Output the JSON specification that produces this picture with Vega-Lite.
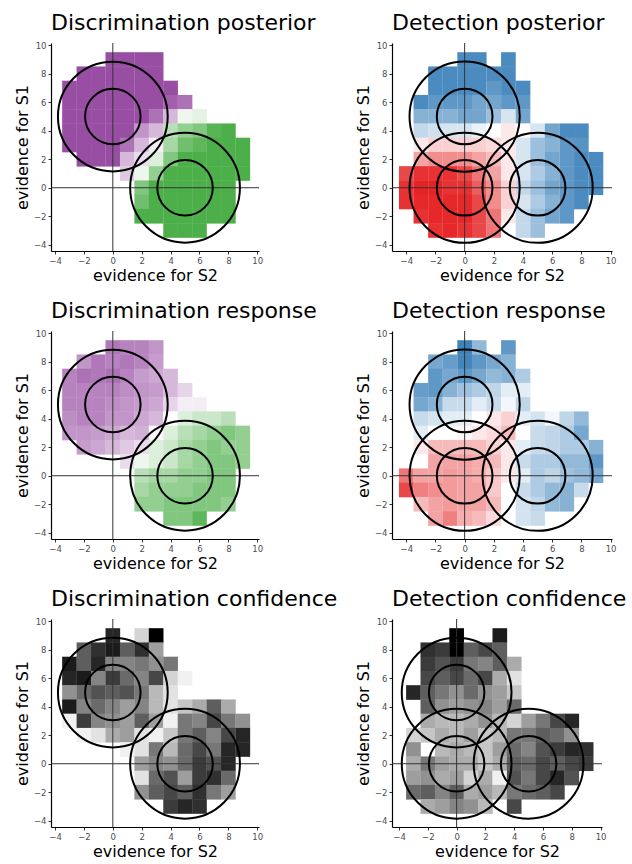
{
  "$schema": "https://vega.github.io/schema/vega-lite/v6.json",
  "padding": {"left": 14, "top": 12, "right": 0, "bottom": 0},
  "datasets": {
    "dp": [
      {"x":0,"y":9,"v":0},{"x":1,"y":9,"v":0},{"x":2,"y":9,"v":0},{"x":3,"y":9,"v":0},
      {"x":-2,"y":8,"v":0},{"x":-1,"y":8,"v":0},{"x":0,"y":8,"v":0},{"x":1,"y":8,"v":0},{"x":2,"y":8,"v":0},{"x":3,"y":8,"v":0},
      {"x":-3,"y":7,"v":0},{"x":-2,"y":7,"v":0},{"x":-1,"y":7,"v":0},{"x":0,"y":7,"v":0},{"x":1,"y":7,"v":0},{"x":2,"y":7,"v":0},{"x":3,"y":7,"v":0},{"x":4,"y":7,"v":0},
      {"x":-3,"y":6,"v":0},{"x":-2,"y":6,"v":0},{"x":-1,"y":6,"v":0},{"x":0,"y":6,"v":0},{"x":1,"y":6,"v":0},{"x":2,"y":6,"v":0},{"x":3,"y":6,"v":0},{"x":4,"y":6,"v":0.05},{"x":5,"y":6,"v":0.1},
      {"x":-3,"y":5,"v":0},{"x":-2,"y":5,"v":0},{"x":-1,"y":5,"v":0},{"x":0,"y":5,"v":0},{"x":1,"y":5,"v":0},{"x":2,"y":5,"v":0},{"x":3,"y":5,"v":0.1},{"x":4,"y":5,"v":0.3},{"x":5,"y":5,"v":0.55},{"x":6,"y":5,"v":0.58},
      {"x":-3,"y":4,"v":0},{"x":-2,"y":4,"v":0},{"x":-1,"y":4,"v":0},{"x":0,"y":4,"v":0},{"x":1,"y":4,"v":0},{"x":2,"y":4,"v":0.2},{"x":3,"y":4,"v":0.3},{"x":4,"y":4,"v":0.7},{"x":5,"y":4,"v":0.8},{"x":6,"y":4,"v":0.85},{"x":7,"y":4,"v":0.97},{"x":8,"y":4,"v":1},
      {"x":-3,"y":3,"v":0},{"x":-2,"y":3,"v":0},{"x":-1,"y":3,"v":0},{"x":0,"y":3,"v":0},{"x":1,"y":3,"v":0.1},{"x":2,"y":3,"v":0.3},{"x":3,"y":3,"v":0.45},{"x":4,"y":3,"v":0.75},{"x":5,"y":3,"v":0.9},{"x":6,"y":3,"v":0.95},{"x":7,"y":3,"v":1},{"x":8,"y":3,"v":1},{"x":9,"y":3,"v":1},
      {"x":-2,"y":2,"v":0},{"x":-1,"y":2,"v":0},{"x":0,"y":2,"v":0},{"x":1,"y":2,"v":0.3},{"x":2,"y":2,"v":0.4},{"x":3,"y":2,"v":0.6},{"x":4,"y":2,"v":0.85},{"x":5,"y":2,"v":1},{"x":6,"y":2,"v":1},{"x":7,"y":2,"v":1},{"x":8,"y":2,"v":1},{"x":9,"y":2,"v":1},
      {"x":1,"y":1,"v":0.35},{"x":2,"y":1,"v":0.55},{"x":3,"y":1,"v":0.8},{"x":4,"y":1,"v":1},{"x":5,"y":1,"v":1},{"x":6,"y":1,"v":1},{"x":7,"y":1,"v":1},{"x":8,"y":1,"v":1},{"x":9,"y":1,"v":1},
      {"x":2,"y":0,"v":0.85},{"x":3,"y":0,"v":1},{"x":4,"y":0,"v":1},{"x":5,"y":0,"v":1},{"x":6,"y":0,"v":1},{"x":7,"y":0,"v":1},{"x":8,"y":0,"v":1},
      {"x":2,"y":-1,"v":0.9},{"x":3,"y":-1,"v":1},{"x":4,"y":-1,"v":1},{"x":5,"y":-1,"v":1},{"x":6,"y":-1,"v":1},{"x":7,"y":-1,"v":1},{"x":8,"y":-1,"v":1},
      {"x":2,"y":-2,"v":1},{"x":3,"y":-2,"v":1},{"x":4,"y":-2,"v":1},{"x":5,"y":-2,"v":1},{"x":6,"y":-2,"v":1},{"x":7,"y":-2,"v":1},{"x":8,"y":-2,"v":1},
      {"x":4,"y":-3,"v":1},{"x":5,"y":-3,"v":1},{"x":6,"y":-3,"v":1}
    ],
    "dr": [
      {"x":0,"y":9,"v":0.12},{"x":1,"y":9,"v":0.15},{"x":2,"y":9,"v":0.15},{"x":3,"y":9,"v":0.2},
      {"x":-2,"y":8,"v":0.2},{"x":-1,"y":8,"v":0.12},{"x":0,"y":8,"v":0.15},{"x":1,"y":8,"v":0.12},{"x":2,"y":8,"v":0.15},{"x":3,"y":8,"v":0.22},
      {"x":-3,"y":7,"v":0.15},{"x":-2,"y":7,"v":0.1},{"x":-1,"y":7,"v":0.12},{"x":0,"y":7,"v":0.1},{"x":1,"y":7,"v":0.15},{"x":2,"y":7,"v":0.22},{"x":3,"y":7,"v":0.25},{"x":4,"y":7,"v":0.3},
      {"x":-3,"y":6,"v":0.15},{"x":-2,"y":6,"v":0.15},{"x":-1,"y":6,"v":0.15},{"x":0,"y":6,"v":0.15},{"x":1,"y":6,"v":0.18},{"x":2,"y":6,"v":0.2},{"x":3,"y":6,"v":0.22},{"x":4,"y":6,"v":0.3},{"x":5,"y":6,"v":0.38},
      {"x":-3,"y":5,"v":0.15},{"x":-2,"y":5,"v":0.15},{"x":-1,"y":5,"v":0.15},{"x":0,"y":5,"v":0.18},{"x":1,"y":5,"v":0.2},{"x":2,"y":5,"v":0.22},{"x":3,"y":5,"v":0.25},{"x":4,"y":5,"v":0.38},{"x":5,"y":5,"v":0.45},{"x":6,"y":5,"v":0.45},
      {"x":-3,"y":4,"v":0.18},{"x":-2,"y":4,"v":0.15},{"x":-1,"y":4,"v":0.15},{"x":0,"y":4,"v":0.2},{"x":1,"y":4,"v":0.2},{"x":2,"y":4,"v":0.25},{"x":3,"y":4,"v":0.3},{"x":4,"y":4,"v":0.5},{"x":5,"y":4,"v":0.6},{"x":6,"y":4,"v":0.65},{"x":7,"y":4,"v":0.65},{"x":8,"y":4,"v":0.7},
      {"x":-3,"y":3,"v":0.2},{"x":-2,"y":3,"v":0.2},{"x":-1,"y":3,"v":0.22},{"x":0,"y":3,"v":0.25},{"x":1,"y":3,"v":0.3},{"x":2,"y":3,"v":0.28},{"x":3,"y":3,"v":0.48},{"x":4,"y":3,"v":0.6},{"x":5,"y":3,"v":0.7},{"x":6,"y":3,"v":0.75},{"x":7,"y":3,"v":0.8},{"x":8,"y":3,"v":0.85},{"x":9,"y":3,"v":0.8},
      {"x":-2,"y":2,"v":0.22},{"x":-1,"y":2,"v":0.25},{"x":0,"y":2,"v":0.3},{"x":1,"y":2,"v":0.35},{"x":2,"y":2,"v":0.4},{"x":3,"y":2,"v":0.6},{"x":4,"y":2,"v":0.65},{"x":5,"y":2,"v":0.75},{"x":6,"y":2,"v":0.8},{"x":7,"y":2,"v":0.85},{"x":8,"y":2,"v":0.8},{"x":9,"y":2,"v":0.8},
      {"x":1,"y":1,"v":0.4},{"x":2,"y":1,"v":0.55},{"x":3,"y":1,"v":0.6},{"x":4,"y":1,"v":0.65},{"x":5,"y":1,"v":0.75},{"x":6,"y":1,"v":0.8},{"x":7,"y":1,"v":0.85},{"x":8,"y":1,"v":0.85},{"x":9,"y":1,"v":0.8},
      {"x":2,"y":0,"v":0.7},{"x":3,"y":0,"v":0.75},{"x":4,"y":0,"v":0.75},{"x":5,"y":0,"v":0.8},{"x":6,"y":0,"v":0.8},{"x":7,"y":0,"v":0.85},{"x":8,"y":0,"v":0.85},
      {"x":2,"y":-1,"v":0.75},{"x":3,"y":-1,"v":0.8},{"x":4,"y":-1,"v":0.8},{"x":5,"y":-1,"v":0.8},{"x":6,"y":-1,"v":0.85},{"x":7,"y":-1,"v":0.85},{"x":8,"y":-1,"v":0.85},
      {"x":2,"y":-2,"v":0.8},{"x":3,"y":-2,"v":0.8},{"x":4,"y":-2,"v":0.85},{"x":5,"y":-2,"v":0.85},{"x":6,"y":-2,"v":0.85},{"x":7,"y":-2,"v":0.85},{"x":8,"y":-2,"v":0.8},
      {"x":4,"y":-3,"v":0.85},{"x":5,"y":-3,"v":0.85},{"x":6,"y":-3,"v":0.95}
    ],
    "dc": [
      {"x":0,"y":9,"v":0.85},{"x":2,"y":9,"v":0.15},{"x":3,"y":9,"v":1},
      {"x":-2,"y":8,"v":0.6},{"x":-1,"y":8,"v":0.8},{"x":0,"y":8,"v":0.9},{"x":1,"y":8,"v":0.6},{"x":2,"y":8,"v":0.8},{"x":3,"y":8,"v":0.35},
      {"x":-3,"y":7,"v":0.9},{"x":-2,"y":7,"v":0.6},{"x":-1,"y":7,"v":0.85},{"x":0,"y":7,"v":0.45},{"x":1,"y":7,"v":0.45},{"x":2,"y":7,"v":0.5},{"x":3,"y":7,"v":0.4},{"x":4,"y":7,"v":0.5},
      {"x":-3,"y":6,"v":0.85},{"x":-2,"y":6,"v":0.9},{"x":-1,"y":6,"v":0.45},{"x":0,"y":6,"v":0.75},{"x":1,"y":6,"v":0.55},{"x":2,"y":6,"v":0.45},{"x":3,"y":6,"v":0.7},{"x":4,"y":6,"v":0.15},{"x":5,"y":6,"v":0.05},
      {"x":-3,"y":5,"v":0.4},{"x":-2,"y":5,"v":0.55},{"x":-1,"y":5,"v":0.65},{"x":0,"y":5,"v":0.6},{"x":1,"y":5,"v":0.65},{"x":2,"y":5,"v":0.5},{"x":3,"y":5,"v":0.25},{"x":4,"y":5,"v":0.1},
      {"x":-3,"y":4,"v":0.9},{"x":-2,"y":4,"v":0.45},{"x":-1,"y":4,"v":0.55},{"x":0,"y":4,"v":0.45},{"x":1,"y":4,"v":0.35},{"x":2,"y":4,"v":0.45},{"x":3,"y":4,"v":0.25},{"x":4,"y":4,"v":0.1},{"x":5,"y":4,"v":0.2},{"x":6,"y":4,"v":0.3},{"x":7,"y":4,"v":0.6},{"x":8,"y":4,"v":0.3},
      {"x":-3,"y":3,"v":0.05},{"x":-2,"y":3,"v":0.75},{"x":-1,"y":3,"v":0.45},{"x":0,"y":3,"v":0.4},{"x":1,"y":3,"v":0.35},{"x":2,"y":3,"v":0.6},{"x":3,"y":3,"v":0.35},{"x":4,"y":3,"v":0.05},{"x":5,"y":3,"v":0.5},{"x":6,"y":3,"v":0.45},{"x":7,"y":3,"v":0.7},{"x":8,"y":3,"v":0.5},{"x":9,"y":3,"v":0.4},
      {"x":-2,"y":2,"v":0.05},{"x":-1,"y":2,"v":0.1},{"x":0,"y":2,"v":0.3},{"x":1,"y":2,"v":0.35},{"x":2,"y":2,"v":0.1},{"x":3,"y":2,"v":0.05},{"x":4,"y":2,"v":0.2},{"x":5,"y":2,"v":0.5},{"x":6,"y":2,"v":0.6},{"x":7,"y":2,"v":0.45},{"x":8,"y":2,"v":0.7},{"x":9,"y":2,"v":0.85},
      {"x":1,"y":1,"v":0.05},{"x":2,"y":1,"v":0.1},{"x":3,"y":1,"v":0.5},{"x":4,"y":1,"v":0.25},{"x":5,"y":1,"v":0.55},{"x":6,"y":1,"v":0.7},{"x":7,"y":1,"v":0.5},{"x":8,"y":1,"v":0.85},{"x":9,"y":1,"v":0.85},
      {"x":2,"y":0,"v":0.35},{"x":3,"y":0,"v":0.45},{"x":4,"y":0,"v":0.4},{"x":5,"y":0,"v":0.55},{"x":6,"y":0,"v":0.75},{"x":7,"y":0,"v":0.65},{"x":8,"y":0,"v":0.85},
      {"x":2,"y":-1,"v":0.1},{"x":3,"y":-1,"v":0.55},{"x":4,"y":-1,"v":0.65},{"x":5,"y":-1,"v":0.35},{"x":6,"y":-1,"v":0.75},{"x":7,"y":-1,"v":0.8},{"x":8,"y":-1,"v":0.55},
      {"x":2,"y":-2,"v":0.4},{"x":3,"y":-2,"v":0.6},{"x":4,"y":-2,"v":0.7},{"x":5,"y":-2,"v":0.6},{"x":6,"y":-2,"v":0.8},{"x":7,"y":-2,"v":0.5},{"x":8,"y":-2,"v":0.35},
      {"x":4,"y":-3,"v":0.75},{"x":5,"y":-3,"v":0.85},{"x":6,"y":-3,"v":0.8}
    ],
    "tp": [
      {"x":0,"y":9,"v":0.95},{"x":1,"y":9,"v":0.95},{"x":3,"y":9,"v":0.95},
      {"x":-2,"y":8,"v":0.95},{"x":-1,"y":8,"v":0.95},{"x":0,"y":8,"v":0.95},{"x":1,"y":8,"v":0.95},{"x":2,"y":8,"v":0.95},{"x":3,"y":8,"v":0.95},
      {"x":-2,"y":7,"v":0.95},{"x":-1,"y":7,"v":0.95},{"x":0,"y":7,"v":0.95},{"x":1,"y":7,"v":0.95},{"x":2,"y":7,"v":0.9},{"x":3,"y":7,"v":0.95},{"x":4,"y":7,"v":0.95},
      {"x":-3,"y":6,"v":0.95},{"x":-2,"y":6,"v":0.9},{"x":-1,"y":6,"v":0.9},{"x":0,"y":6,"v":0.9},{"x":1,"y":6,"v":0.85},{"x":2,"y":6,"v":0.85},{"x":3,"y":6,"v":0.9},{"x":4,"y":6,"v":0.9},
      {"x":-3,"y":5,"v":0.8},{"x":-2,"y":5,"v":0.8},{"x":-1,"y":5,"v":0.8},{"x":0,"y":5,"v":0.85},{"x":1,"y":5,"v":0.85},{"x":2,"y":5,"v":0.75},{"x":3,"y":5,"v":0.6},{"x":4,"y":5,"v":0.85},
      {"x":-3,"y":4,"v":0.65},{"x":-2,"y":4,"v":0.62},{"x":-1,"y":4,"v":0.6},{"x":0,"y":4,"v":0.6},{"x":1,"y":4,"v":0.55},{"x":2,"y":4,"v":0.5},{"x":3,"y":4,"v":0.45},{"x":4,"y":4,"v":0.5},{"x":5,"y":4,"v":0.6},{"x":6,"y":4,"v":0.85},{"x":7,"y":4,"v":0.95},{"x":8,"y":4,"v":0.95},
      {"x":-3,"y":3,"v":0.45},{"x":-2,"y":3,"v":0.4},{"x":-1,"y":3,"v":0.4},{"x":0,"y":3,"v":0.4},{"x":1,"y":3,"v":0.4},{"x":2,"y":3,"v":0.42},{"x":3,"y":3,"v":0.45},{"x":4,"y":3,"v":0.6},{"x":5,"y":3,"v":0.75},{"x":6,"y":3,"v":0.8},{"x":7,"y":3,"v":0.9},{"x":8,"y":3,"v":0.92},
      {"x":-3,"y":2,"v":0.3},{"x":-2,"y":2,"v":0.25},{"x":-1,"y":2,"v":0.25},{"x":0,"y":2,"v":0.25},{"x":1,"y":2,"v":0.3},{"x":2,"y":2,"v":0.35},{"x":3,"y":2,"v":0.45},{"x":4,"y":2,"v":0.6},{"x":5,"y":2,"v":0.75},{"x":6,"y":2,"v":0.85},{"x":7,"y":2,"v":0.9},{"x":8,"y":2,"v":0.95},{"x":9,"y":2,"v":0.95},
      {"x":-4,"y":1,"v":0.1},{"x":-3,"y":1,"v":0.05},{"x":-2,"y":1,"v":0.05},{"x":-1,"y":1,"v":0.05},{"x":0,"y":1,"v":0.1},{"x":1,"y":1,"v":0.2},{"x":2,"y":1,"v":0.3},{"x":3,"y":1,"v":0.45},{"x":4,"y":1,"v":0.6},{"x":5,"y":1,"v":0.7},{"x":6,"y":1,"v":0.8},{"x":7,"y":1,"v":0.9},{"x":8,"y":1,"v":0.95},{"x":9,"y":1,"v":0.95},
      {"x":-4,"y":0,"v":0.05},{"x":-3,"y":0,"v":0.02},{"x":-2,"y":0,"v":0.02},{"x":-1,"y":0,"v":0.05},{"x":0,"y":0,"v":0.05},{"x":1,"y":0,"v":0.15},{"x":2,"y":0,"v":0.25},{"x":3,"y":0,"v":0.4},{"x":4,"y":0,"v":0.65},{"x":5,"y":0,"v":0.75},{"x":6,"y":0,"v":0.85},{"x":7,"y":0,"v":0.9},{"x":8,"y":0,"v":0.95},{"x":9,"y":0,"v":0.95},
      {"x":-4,"y":-1,"v":0.05},{"x":-3,"y":-1,"v":0.03},{"x":-2,"y":-1,"v":0.03},{"x":-1,"y":-1,"v":0.03},{"x":0,"y":-1,"v":0.03},{"x":1,"y":-1,"v":0.1},{"x":2,"y":-1,"v":0.25},{"x":3,"y":-1,"v":0.4},{"x":4,"y":-1,"v":0.6},{"x":5,"y":-1,"v":0.7},{"x":6,"y":-1,"v":0.8},{"x":7,"y":-1,"v":0.9},{"x":8,"y":-1,"v":0.95},
      {"x":-3,"y":-2,"v":0.05},{"x":-2,"y":-2,"v":0.03},{"x":-1,"y":-2,"v":0.03},{"x":0,"y":-2,"v":0.03},{"x":1,"y":-2,"v":0.1},{"x":2,"y":-2,"v":0.2},{"x":3,"y":-2,"v":0.45},{"x":4,"y":-2,"v":0.65},{"x":5,"y":-2,"v":0.75},{"x":6,"y":-2,"v":0.85},{"x":7,"y":-2,"v":0.9},
      {"x":-2,"y":-3,"v":0.05},{"x":-1,"y":-3,"v":0.03},{"x":0,"y":-3,"v":0.05},{"x":1,"y":-3,"v":0.1},{"x":2,"y":-3,"v":0.2},{"x":3,"y":-3,"v":0.5},{"x":4,"y":-3,"v":0.65},{"x":5,"y":-3,"v":0.75}
    ],
    "tr": [
      {"x":0,"y":9,"v":0.98},{"x":1,"y":9,"v":0.77},{"x":3,"y":9,"v":0.9},
      {"x":-2,"y":8,"v":0.84},{"x":-1,"y":8,"v":0.88},{"x":0,"y":8,"v":0.97},{"x":1,"y":8,"v":0.9},{"x":2,"y":8,"v":0.84},{"x":3,"y":8,"v":0.8},
      {"x":-2,"y":7,"v":0.9},{"x":-1,"y":7,"v":0.84},{"x":0,"y":7,"v":0.9},{"x":1,"y":7,"v":0.84},{"x":2,"y":7,"v":0.77},{"x":3,"y":7,"v":0.8},{"x":4,"y":7,"v":0.7},
      {"x":-3,"y":6,"v":0.88},{"x":-2,"y":6,"v":0.9},{"x":-1,"y":6,"v":0.8},{"x":0,"y":6,"v":0.74},{"x":1,"y":6,"v":0.7},{"x":2,"y":6,"v":0.66},{"x":3,"y":6,"v":0.57},{"x":4,"y":6,"v":0.57},
      {"x":-3,"y":5,"v":0.84},{"x":-2,"y":5,"v":0.8},{"x":-1,"y":5,"v":0.64},{"x":0,"y":5,"v":0.64},{"x":1,"y":5,"v":0.57},{"x":2,"y":5,"v":0.64},{"x":3,"y":5,"v":0.53},{"x":4,"y":5,"v":0.66},
      {"x":-3,"y":4,"v":0.64},{"x":-2,"y":4,"v":0.61},{"x":-1,"y":4,"v":0.57},{"x":0,"y":4,"v":0.57},{"x":1,"y":4,"v":0.5},{"x":2,"y":4,"v":0.45},{"x":3,"y":4,"v":0.4},{"x":4,"y":4,"v":0.57},{"x":5,"y":4,"v":0.61},{"x":6,"y":4,"v":0.53},{"x":7,"y":4,"v":0.66},{"x":8,"y":4,"v":0.77},
      {"x":-3,"y":3,"v":0.57},{"x":-2,"y":3,"v":0.5},{"x":-1,"y":3,"v":0.5},{"x":0,"y":3,"v":0.48},{"x":1,"y":3,"v":0.45},{"x":2,"y":3,"v":0.42},{"x":3,"y":3,"v":0.35},{"x":4,"y":3,"v":0.5},{"x":5,"y":3,"v":0.64},{"x":6,"y":3,"v":0.66},{"x":7,"y":3,"v":0.7},{"x":8,"y":3,"v":0.84},
      {"x":-3,"y":2,"v":0.45},{"x":-2,"y":2,"v":0.35},{"x":-1,"y":2,"v":0.35},{"x":0,"y":2,"v":0.35},{"x":1,"y":2,"v":0.35},{"x":2,"y":2,"v":0.4},{"x":3,"y":2,"v":0.45},{"x":4,"y":2,"v":0.57},{"x":5,"y":2,"v":0.64},{"x":6,"y":2,"v":0.66},{"x":7,"y":2,"v":0.7},{"x":8,"y":2,"v":0.7},{"x":9,"y":2,"v":0.8},
      {"x":-3,"y":1,"v":0.5},{"x":-2,"y":1,"v":0.3},{"x":-1,"y":1,"v":0.3},{"x":0,"y":1,"v":0.3},{"x":1,"y":1,"v":0.32},{"x":2,"y":1,"v":0.35},{"x":3,"y":1,"v":0.45},{"x":4,"y":1,"v":0.64},{"x":5,"y":1,"v":0.7},{"x":6,"y":1,"v":0.7},{"x":7,"y":1,"v":0.77},{"x":8,"y":1,"v":0.77},{"x":9,"y":1,"v":0.9},
      {"x":-4,"y":0,"v":0.2},{"x":-3,"y":0,"v":0.3},{"x":-2,"y":0,"v":0.3},{"x":-1,"y":0,"v":0.28},{"x":0,"y":0,"v":0.3},{"x":1,"y":0,"v":0.32},{"x":2,"y":0,"v":0.38},{"x":3,"y":0,"v":0.45},{"x":4,"y":0,"v":0.57},{"x":5,"y":0,"v":0.7},{"x":6,"y":0,"v":0.66},{"x":7,"y":0,"v":0.74},{"x":8,"y":0,"v":0.77},{"x":9,"y":0,"v":0.84},
      {"x":-4,"y":-1,"v":0.1},{"x":-3,"y":-1,"v":0.22},{"x":-2,"y":-1,"v":0.25},{"x":-1,"y":-1,"v":0.28},{"x":0,"y":-1,"v":0.3},{"x":1,"y":-1,"v":0.3},{"x":2,"y":-1,"v":0.38},{"x":3,"y":-1,"v":0.5},{"x":4,"y":-1,"v":0.64},{"x":5,"y":-1,"v":0.7},{"x":6,"y":-1,"v":0.77},{"x":7,"y":-1,"v":0.8},{"x":8,"y":-1,"v":0.64},
      {"x":-3,"y":-2,"v":0.35},{"x":-2,"y":-2,"v":0.3},{"x":-1,"y":-2,"v":0.28},{"x":0,"y":-2,"v":0.3},{"x":1,"y":-2,"v":0.3},{"x":2,"y":-2,"v":0.35},{"x":3,"y":-2,"v":0.5},{"x":4,"y":-2,"v":0.61},{"x":5,"y":-2,"v":0.66},{"x":6,"y":-2,"v":0.77},{"x":7,"y":-2,"v":0.8},
      {"x":-2,"y":-3,"v":0.3},{"x":-1,"y":-3,"v":0.22},{"x":0,"y":-3,"v":0.32},{"x":1,"y":-3,"v":0.35},{"x":2,"y":-3,"v":0.42},{"x":4,"y":-3,"v":0.61},{"x":5,"y":-3,"v":0.64}
    ],
    "tc": [
      {"x":0,"y":9,"v":1},{"x":3,"y":9,"v":0.9},
      {"x":-2,"y":8,"v":0.8},{"x":-1,"y":8,"v":0.75},{"x":0,"y":8,"v":1},{"x":1,"y":8,"v":0.6},{"x":2,"y":8,"v":0.7},{"x":3,"y":8,"v":0.6},
      {"x":-2,"y":7,"v":0.75},{"x":-1,"y":7,"v":0.65},{"x":0,"y":7,"v":0.75},{"x":1,"y":7,"v":0.5},{"x":2,"y":7,"v":0.45},{"x":3,"y":7,"v":0.6},{"x":4,"y":7,"v":0.3},
      {"x":-2,"y":6,"v":0.7},{"x":-1,"y":6,"v":0.6},{"x":0,"y":6,"v":0.7},{"x":1,"y":6,"v":0.55},{"x":2,"y":6,"v":0.7},{"x":3,"y":6,"v":0.3},{"x":4,"y":6,"v":0.1},
      {"x":-3,"y":5,"v":0.85},{"x":-2,"y":5,"v":0.6},{"x":-1,"y":5,"v":0.5},{"x":0,"y":5,"v":0.4},{"x":1,"y":5,"v":0.55},{"x":2,"y":5,"v":0.4},{"x":3,"y":5,"v":0.35},{"x":4,"y":5,"v":0.2},
      {"x":-2,"y":4,"v":0.6},{"x":-1,"y":4,"v":0.4},{"x":0,"y":4,"v":0.35},{"x":1,"y":4,"v":0.4},{"x":2,"y":4,"v":0.45},{"x":3,"y":4,"v":0.35},{"x":4,"y":4,"v":0.55},
      {"x":-2,"y":3,"v":0.3},{"x":-1,"y":3,"v":0.25},{"x":0,"y":3,"v":0.25},{"x":1,"y":3,"v":0.3},{"x":2,"y":3,"v":0.4},{"x":3,"y":3,"v":0.25},{"x":4,"y":3,"v":0.15},{"x":5,"y":3,"v":0.35},{"x":6,"y":3,"v":0.5},{"x":7,"y":3,"v":0.7},{"x":8,"y":3,"v":0.85},
      {"x":-3,"y":2,"v":0.15},{"x":-2,"y":2,"v":0.2},{"x":-1,"y":2,"v":0.3},{"x":0,"y":2,"v":0.25},{"x":1,"y":2,"v":0.35},{"x":2,"y":2,"v":0.2},{"x":3,"y":2,"v":0.25},{"x":4,"y":2,"v":0.5},{"x":5,"y":2,"v":0.5},{"x":6,"y":2,"v":0.6},{"x":7,"y":2,"v":0.55},{"x":8,"y":2,"v":0.4},
      {"x":-3,"y":1,"v":0.4},{"x":-1,"y":1,"v":0.25},{"x":0,"y":1,"v":0.3},{"x":1,"y":1,"v":0.25},{"x":2,"y":1,"v":0.2},{"x":3,"y":1,"v":0.35},{"x":4,"y":1,"v":0.55},{"x":5,"y":1,"v":0.45},{"x":6,"y":1,"v":0.65},{"x":7,"y":1,"v":0.75},{"x":8,"y":1,"v":0.85},{"x":9,"y":1,"v":0.8},
      {"x":-3,"y":0,"v":0.3},{"x":-2,"y":0,"v":0.5},{"x":-1,"y":0,"v":0.35},{"x":0,"y":0,"v":0.3},{"x":1,"y":0,"v":0.3},{"x":2,"y":0,"v":0.2},{"x":3,"y":0,"v":0.3},{"x":4,"y":0,"v":0.6},{"x":5,"y":0,"v":0.55},{"x":6,"y":0,"v":0.7},{"x":7,"y":0,"v":0.6},{"x":8,"y":0,"v":0.7},{"x":9,"y":0,"v":0.75},
      {"x":-3,"y":-1,"v":0.35},{"x":-2,"y":-1,"v":0.4},{"x":-1,"y":-1,"v":0.3},{"x":0,"y":-1,"v":0.35},{"x":1,"y":-1,"v":0.15},{"x":2,"y":-1,"v":0.3},{"x":3,"y":-1,"v":0.05},{"x":4,"y":-1,"v":0.65},{"x":5,"y":-1,"v":0.5},{"x":6,"y":-1,"v":0.7},{"x":7,"y":-1,"v":0.85},{"x":8,"y":-1,"v":0.65},
      {"x":-3,"y":-2,"v":0.55},{"x":-2,"y":-2,"v":0.6},{"x":-1,"y":-2,"v":0.45},{"x":0,"y":-2,"v":0.6},{"x":1,"y":-2,"v":0.3},{"x":2,"y":-2,"v":0.35},{"x":3,"y":-2,"v":0.25},{"x":4,"y":-2,"v":0.5},{"x":5,"y":-2,"v":0.55},{"x":6,"y":-2,"v":0.6},{"x":7,"y":-2,"v":0.7},
      {"x":-2,"y":-3,"v":0.3},{"x":-1,"y":-3,"v":0.35},{"x":0,"y":-3,"v":0.45},{"x":1,"y":-3,"v":0.4},{"x":2,"y":-3,"v":0.25},{"x":4,"y":-3,"v":0.7}
    ],
    "discCircles": [
      {"x":0,"y":5,"ring":"inner"},{"x":0,"y":5,"ring":"outer"},
      {"x":5,"y":0,"ring":"inner"},{"x":5,"y":0,"ring":"outer"}
    ],
    "detCircles": [
      {"x":0,"y":5,"ring":"inner"},{"x":0,"y":5,"ring":"outer"},
      {"x":0,"y":0,"ring":"inner"},{"x":0,"y":0,"ring":"outer"},
      {"x":5,"y":0,"ring":"inner"},{"x":5,"y":0,"ring":"outer"}
    ]
  },
  "columns": 2,
  "spacing": {"row": 80, "column": 133},
  "bounds": "flush",
  "concat": [
    {
      "width": 208, "height": 208,
      "title": "Discrimination posterior",
      "layer": [
        {"data": {"name": "dp"}, "mark": {"type": "square", "size": 215, "opacity": 1, "strokeWidth": 0},
         "encoding": {
           "x": {"field": "x", "type": "quantitative", "scale": {"domain": [-4.28, 10.12], "nice": false, "zero": false}, "title": "evidence for S2"},
           "y": {"field": "y", "type": "quantitative", "scale": {"domain": [-4.44, 10.16], "nice": false, "zero": false}, "title": "evidence for S1"},
           "color": {"field": "v", "type": "quantitative", "scale": {"domain": [0, 0.5, 1], "range": ["#984ea3", "#ffffff", "#4daf4a"], "interpolate": "rgb"}, "legend": null}}},
        {"data": {"values": [{}]}, "mark": {"type": "rule", "color": "#333333", "strokeWidth": 1}, "encoding": {"x": {"datum": 0}}},
        {"data": {"values": [{}]}, "mark": {"type": "rule", "color": "#333333", "strokeWidth": 1}, "encoding": {"y": {"datum": 0}}},
        {"data": {"name": "discCircles"}, "mark": {"type": "point", "shape": "circle", "filled": false, "stroke": "#000000", "strokeWidth": 2, "opacity": 1},
         "encoding": {"x": {"field": "x", "type": "quantitative"}, "y": {"field": "y", "type": "quantitative"},
           "size": {"field": "ring", "type": "ordinal", "scale": {"domain": ["inner", "outer"], "range": [3080, 12050]}, "legend": null}}}
      ]
    },
    {
      "width": 220, "height": 208,
      "title": "Detection posterior",
      "layer": [
        {"data": {"name": "tp"}, "mark": {"type": "square", "size": 215, "opacity": 1, "strokeWidth": 0},
         "encoding": {
           "x": {"field": "x", "type": "quantitative", "scale": {"domain": [-4.98, 10.1], "nice": false, "zero": false}, "title": "evidence for S2"},
           "y": {"field": "y", "type": "quantitative", "scale": {"domain": [-4.44, 10.16], "nice": false, "zero": false}, "title": "evidence for S1"},
           "color": {"field": "v", "type": "quantitative", "scale": {"domain": [0, 0.5, 1], "range": ["#e41a1c", "#ffffff", "#377eb8"], "interpolate": "rgb"}, "legend": null}}},
        {"data": {"values": [{}]}, "mark": {"type": "rule", "color": "#333333", "strokeWidth": 1}, "encoding": {"x": {"datum": 0}}},
        {"data": {"values": [{}]}, "mark": {"type": "rule", "color": "#333333", "strokeWidth": 1}, "encoding": {"y": {"datum": 0}}},
        {"data": {"name": "detCircles"}, "mark": {"type": "point", "shape": "circle", "filled": false, "stroke": "#000000", "strokeWidth": 2, "opacity": 1},
         "encoding": {"x": {"field": "x", "type": "quantitative"}, "y": {"field": "y", "type": "quantitative"},
           "size": {"field": "ring", "type": "ordinal", "scale": {"domain": ["inner", "outer"], "range": [3100, 12150]}, "legend": null}}}
      ]
    },
    {
      "width": 208, "height": 208,
      "title": "Discrimination response",
      "layer": [
        {"data": {"name": "dr"}, "mark": {"type": "square", "size": 215, "opacity": 1, "strokeWidth": 0},
         "encoding": {
           "x": {"field": "x", "type": "quantitative", "scale": {"domain": [-4.28, 10.12], "nice": false, "zero": false}, "title": "evidence for S2"},
           "y": {"field": "y", "type": "quantitative", "scale": {"domain": [-4.44, 10.16], "nice": false, "zero": false}, "title": "evidence for S1"},
           "color": {"field": "v", "type": "quantitative", "scale": {"domain": [0, 0.5, 1], "range": ["#984ea3", "#ffffff", "#4daf4a"], "interpolate": "rgb"}, "legend": null}}},
        {"data": {"values": [{}]}, "mark": {"type": "rule", "color": "#333333", "strokeWidth": 1}, "encoding": {"x": {"datum": 0}}},
        {"data": {"values": [{}]}, "mark": {"type": "rule", "color": "#333333", "strokeWidth": 1}, "encoding": {"y": {"datum": 0}}},
        {"data": {"name": "discCircles"}, "mark": {"type": "point", "shape": "circle", "filled": false, "stroke": "#000000", "strokeWidth": 2, "opacity": 1},
         "encoding": {"x": {"field": "x", "type": "quantitative"}, "y": {"field": "y", "type": "quantitative"},
           "size": {"field": "ring", "type": "ordinal", "scale": {"domain": ["inner", "outer"], "range": [3080, 12050]}, "legend": null}}}
      ]
    },
    {
      "width": 220, "height": 208,
      "title": "Detection response",
      "layer": [
        {"data": {"name": "tr"}, "mark": {"type": "square", "size": 215, "opacity": 1, "strokeWidth": 0},
         "encoding": {
           "x": {"field": "x", "type": "quantitative", "scale": {"domain": [-4.98, 10.1], "nice": false, "zero": false}, "title": "evidence for S2"},
           "y": {"field": "y", "type": "quantitative", "scale": {"domain": [-4.44, 10.16], "nice": false, "zero": false}, "title": "evidence for S1"},
           "color": {"field": "v", "type": "quantitative", "scale": {"domain": [0, 0.5, 1], "range": ["#e41a1c", "#ffffff", "#377eb8"], "interpolate": "rgb"}, "legend": null}}},
        {"data": {"values": [{}]}, "mark": {"type": "rule", "color": "#333333", "strokeWidth": 1}, "encoding": {"x": {"datum": 0}}},
        {"data": {"values": [{}]}, "mark": {"type": "rule", "color": "#333333", "strokeWidth": 1}, "encoding": {"y": {"datum": 0}}},
        {"data": {"name": "detCircles"}, "mark": {"type": "point", "shape": "circle", "filled": false, "stroke": "#000000", "strokeWidth": 2, "opacity": 1},
         "encoding": {"x": {"field": "x", "type": "quantitative"}, "y": {"field": "y", "type": "quantitative"},
           "size": {"field": "ring", "type": "ordinal", "scale": {"domain": ["inner", "outer"], "range": [3100, 12150]}, "legend": null}}}
      ]
    },
    {
      "width": 208, "height": 208,
      "title": "Discrimination confidence",
      "layer": [
        {"data": {"name": "dc"}, "mark": {"type": "square", "size": 215, "opacity": 1, "strokeWidth": 0},
         "encoding": {
           "x": {"field": "x", "type": "quantitative", "scale": {"domain": [-4.28, 10.12], "nice": false, "zero": false}, "title": "evidence for S2"},
           "y": {"field": "y", "type": "quantitative", "scale": {"domain": [-4.44, 10.16], "nice": false, "zero": false}, "title": "evidence for S1"},
           "color": {"field": "v", "type": "quantitative", "scale": {"domain": [0, 1], "range": ["#ffffff", "#000000"], "interpolate": "lab"}, "legend": null}}},
        {"data": {"values": [{}]}, "mark": {"type": "rule", "color": "#333333", "strokeWidth": 1}, "encoding": {"x": {"datum": 0}}},
        {"data": {"values": [{}]}, "mark": {"type": "rule", "color": "#333333", "strokeWidth": 1}, "encoding": {"y": {"datum": 0}}},
        {"data": {"name": "discCircles"}, "mark": {"type": "point", "shape": "circle", "filled": false, "stroke": "#000000", "strokeWidth": 2, "opacity": 1},
         "encoding": {"x": {"field": "x", "type": "quantitative"}, "y": {"field": "y", "type": "quantitative"},
           "size": {"field": "ring", "type": "ordinal", "scale": {"domain": ["inner", "outer"], "range": [3080, 12050]}, "legend": null}}}
      ]
    },
    {
      "width": 210, "height": 208,
      "title": "Detection confidence",
      "layer": [
        {"data": {"name": "tc"}, "mark": {"type": "square", "size": 215, "opacity": 1, "strokeWidth": 0},
         "encoding": {
           "x": {"field": "x", "type": "quantitative", "scale": {"domain": [-4.49, 10.1], "nice": false, "zero": false}, "title": "evidence for S2"},
           "y": {"field": "y", "type": "quantitative", "scale": {"domain": [-4.44, 10.16], "nice": false, "zero": false}, "title": "evidence for S1"},
           "color": {"field": "v", "type": "quantitative", "scale": {"domain": [0, 1], "range": ["#ffffff", "#000000"], "interpolate": "lab"}, "legend": null}}},
        {"data": {"values": [{}]}, "mark": {"type": "rule", "color": "#333333", "strokeWidth": 1}, "encoding": {"x": {"datum": 0}}},
        {"data": {"values": [{}]}, "mark": {"type": "rule", "color": "#333333", "strokeWidth": 1}, "encoding": {"y": {"datum": 0}}},
        {"data": {"name": "detCircles"}, "mark": {"type": "point", "shape": "circle", "filled": false, "stroke": "#000000", "strokeWidth": 2, "opacity": 1},
         "encoding": {"x": {"field": "x", "type": "quantitative"}, "y": {"field": "y", "type": "quantitative"},
           "size": {"field": "ring", "type": "ordinal", "scale": {"domain": ["inner", "outer"], "range": [3080, 12050]}, "legend": null}}}
      ]
    }
  ],
  "resolve": {"scale": {"x": "independent", "y": "independent", "color": "independent", "size": "independent"}},
  "config": {
    "view": {"stroke": null},
    "axis": {
      "values": [-4, -2, 0, 2, 4, 6, 8, 10],
      "grid": false,
      "labelFont": "DejaVu Sans",
      "labelFontSize": 8.5,
      "labelColor": "#4d4d4d",
      "labelFlush": false,
      "labelOverlap": false,
      "labelPadding": 2,
      "tickColor": "#333333",
      "tickSize": 3,
      "domainColor": "#000000",
      "domainWidth": 1.2,
      "titleFont": "DejaVu Sans",
      "titleFontSize": 16,
      "titleFontWeight": "normal",
      "titleColor": "#000000",
      "titlePadding": 3
    },
    "title": {"font": "DejaVu Sans", "fontSize": 22, "fontWeight": "normal", "anchor": "start", "frame": "group", "offset": 6, "color": "#000000"}
  }
}
